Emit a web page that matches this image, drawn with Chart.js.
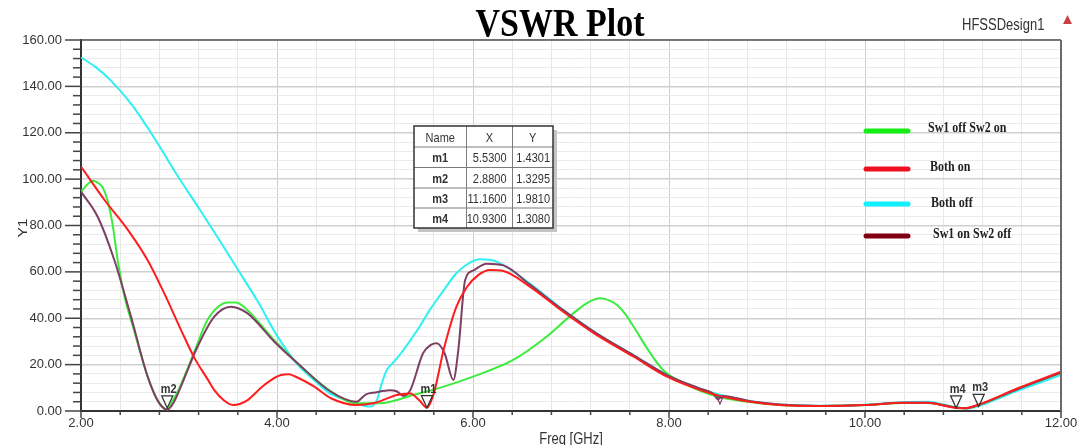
<!DOCTYPE html>
<html><head><meta charset="utf-8">
<script src="https://cdn.jsdelivr.net/npm/chart.js@4.4.1/dist/chart.umd.min.js"></script>
<style>html,body{margin:0;padding:0;background:#fff;}canvas{display:block}</style>
</head><body>
<canvas id="c" width="1078" height="445"></canvas>
<script>
// ---------- data ----------
const seriesNames = ['Sw1 off Sw2 on', 'Both on', 'Both off', 'Sw1 on Sw2 off'];

const greenFreq = [2.0,2.06,2.12,2.17,2.22,2.27,2.32,2.38,2.44,2.54,2.62,2.70,2.78,2.84,2.88,2.93,3.0,3.08,3.16,3.29,3.40,3.50,3.58,3.70,3.84,3.97,4.21,4.55,4.81,5.05,5.39,5.7,6.0,6.41,6.75,7.02,7.18,7.30,7.40,7.47,7.56,7.64,7.81,7.94,8.15,8.49,8.8,9.13,9.5,10.0,10.38,10.65,10.8,10.93,11.02,11.15,11.56,12.0];
const greenVswr = [94.6,97.5,99.3,98.5,96.5,91,81,63.5,50,35,23,12.5,4.5,1.5,0.6,4,9.5,17.5,26,39.2,45,46.8,46.8,43.5,37,30.6,20.6,8.5,3.3,3.3,6.9,10.5,14.8,22,32,42,47,48.6,47.5,45.7,41.5,36.3,24.9,17.7,12,6.2,4,2.6,2.2,2.6,3.4,3.5,2.5,1.5,1.15,2.4,9.6,16.5];

const redFreq = [2.0,2.24,2.48,2.68,2.85,3.02,3.16,3.28,3.36,3.46,3.55,3.62,3.70,3.87,4.04,4.12,4.18,4.38,4.55,4.81,4.98,5.10,5.22,5.36,5.45,5.53,5.60,5.70,5.83,5.94,6.05,6.17,6.31,6.58,6.92,7.26,7.64,7.98,8.32,8.52,8.83,9.13,9.54,10.0,10.38,10.65,10.8,10.93,11.02,11.15,11.56,12.0];
const redVswr = [105.4,91,78,65,50.7,35,22.7,14.5,9,4.5,2.6,3,4.7,11.2,15.5,15.8,15,10.5,5.5,2.6,3.3,5,6.9,7.6,4.7,1.43,7.6,26.3,44.9,53.6,58.5,60.8,60.4,53.6,42.8,32.8,23.4,14.8,9,6.5,4,2.6,2.2,2.6,3.6,3.6,2.4,1.31,1.2,2.6,9.8,17];

const cyanFreq = [2.0,2.15,2.3,2.52,2.69,2.81,3.0,3.21,3.4,3.6,3.8,4.0,4.2,4.4,4.54,4.7,4.81,4.95,5.02,5.07,5.12,5.2,5.29,5.45,5.56,5.7,5.83,5.95,6.07,6.24,6.58,6.92,7.26,7.64,7.98,8.32,8.52,8.83,9.13,9.54,10.0,10.38,10.65,10.8,10.95,11.05,11.15,11.56,12.0];
const cyanVswr = [152.5,148.3,142.7,132,121.5,113.5,100.5,87,74.5,61,47.5,32.5,20.5,12.5,7.6,4.8,3.3,1.9,4.8,12,17.7,21.5,26.3,36,43.6,52,59.4,63.5,65.4,64.4,55,43.6,33.5,24,15.5,9.5,7,4.2,2.8,2.3,2.7,3.8,4,2.8,1.4,1.1,2,8.8,15.5];

const purpleFreq = [2.0,2.17,2.34,2.51,2.68,2.80,2.88,2.95,3.02,3.19,3.36,3.53,3.70,3.97,4.21,4.55,4.81,4.91,5.0,5.15,5.22,5.29,5.36,5.49,5.57,5.63,5.71,5.80,5.85,5.92,6.0,6.14,6.31,6.58,6.92,7.26,7.64,7.98,8.32,8.45,8.5,8.55,8.83,9.13,9.54,10.0,10.38,10.65,10.8,10.93,11.02,11.15,11.56,12.0];
const purpleVswr = [94.6,83.8,65.1,40.7,14.8,3.3,0.6,4,10.6,27.8,40.7,45,42.1,30,20.6,8.3,4.0,7.2,8,9,8.5,6.5,9,24.9,28.5,29.2,24.9,13.4,26.3,56.5,60.5,63.5,62.8,54.5,43.5,33.5,24,15.5,9.6,7.5,5,6.5,4.2,2.8,2.2,2.6,3.6,3.6,2.5,1.5,1.15,2.5,9.5,16.5];

const markerNames = ['m1', 'm2', 'm3', 'm4'];
const markerX = [5.5300, 2.8800, 11.1600, 10.9300];
const markerY = [1.4301, 1.3295, 1.9810, 1.3080];
const extraMarkerX = [8.52];
const extraMarkerY = [3.0];

const xMajorTicks = [2, 4, 6, 8, 10, 12];
const yMajorTicks = [0, 20, 40, 60, 80, 100, 120, 140, 160];
const xMinorStep = 0.4, yMinorStep = 4;

// ---------- styles ----------
const curveColors = ['#3cec3c', '#ff1c1c', '#2cf0f4', '#7d3f62'];
const legendColors = ['#14ee14', '#ee1020', '#10f0ff', '#800012'];
const SANS = "'Liberation Sans', Arial, sans-serif";
const SERIF = "'Liberation Serif', 'Times New Roman', serif";
const STRETCH = 1.2;

const toPts = (fx, fy) => fx.map((x, i) => ({x, y: fy[i]}));
const isMajor = (v, list) => list.some(m => Math.abs(m - v) < 1e-6);

function sText(ctx, txt, x, y, font, color, align, sx = 1, sy = STRETCH) {
  ctx.save();
  ctx.font = font; ctx.fillStyle = color; ctx.textAlign = align; ctx.textBaseline = 'alphabetic';
  ctx.translate(x, y); ctx.scale(sx, sy); ctx.fillText(txt, 0, 0);
  ctx.restore();
}

const decor = {
  id: 'decor',
  afterDraw(chart) {
    const ctx = chart.ctx, a = chart.chartArea, xs = chart.scales.x, ys = chart.scales.y;
    ctx.save();
    // frame top / right
    ctx.strokeStyle = '#555'; ctx.lineWidth = 1.5;
    ctx.beginPath(); ctx.moveTo(a.left, a.top); ctx.lineTo(a.right, a.top); ctx.stroke();
    ctx.strokeStyle = '#6a6a6a'; ctx.lineWidth = 2;
    ctx.beginPath(); ctx.moveTo(a.right, a.top); ctx.lineTo(a.right, a.bottom + 1); ctx.stroke();
    // y tick marks
    ctx.strokeStyle = '#444'; ctx.lineWidth = 1.5;
    for (let i = 0; i <= 40; i++) {
      const v = i * yMinorStep, y = ys.getPixelForValue(v);
      const len = isMajor(v, yMajorTicks) ? 16 : 8;
      ctx.beginPath(); ctx.moveTo(a.left - len, y); ctx.lineTo(a.left, y); ctx.stroke();
    }
    // x tick marks
    for (let i = 0; i <= 25; i++) {
      const v = 2 + i * xMinorStep, x = xs.getPixelForValue(v);
      const len = isMajor(v, xMajorTicks) ? 7 : 4;
      ctx.beginPath(); ctx.moveTo(x, a.bottom); ctx.lineTo(x, a.bottom + len); ctx.stroke();
    }
    // title & header text
    sText(ctx, 'VSWR Plot', 560, 36, 'bold 34px ' + SERIF, '#000', 'center');
    sText(ctx, 'HFSSDesign1', 962, 30, '13px ' + SANS, '#333', 'left');
    ctx.fillStyle = '#c84040';
    ctx.beginPath(); ctx.moveTo(1067.5, 15); ctx.lineTo(1072, 24); ctx.lineTo(1063, 24); ctx.closePath(); ctx.fill();
    // axis titles
    ctx.save();
    ctx.translate(27, 228); ctx.rotate(-Math.PI / 2); ctx.scale(STRETCH, 1);
    ctx.font = '13px ' + SANS; ctx.fillStyle = '#333'; ctx.textAlign = 'center'; ctx.textBaseline = 'alphabetic';
    ctx.fillText('Y1', 0, 0);
    ctx.restore();
    sText(ctx, 'Freq [GHz]', (a.left + a.right) / 2, 444, '13px ' + SANS, '#333', 'center');
    // legend
    const lgLineY = [131, 169, 204, 236], lgTextY = [132, 171, 207, 238], lgTextX = [928, 930, 931, 933];
    seriesNames.forEach((n, i) => {
      ctx.strokeStyle = legendColors[i]; ctx.lineWidth = 5; ctx.lineCap = 'round';
      ctx.beginPath(); ctx.moveTo(866, lgLineY[i]); ctx.lineTo(908, lgLineY[i]); ctx.stroke();
      sText(ctx, n, lgTextX[i], lgTextY[i], 'bold 12px ' + SERIF, '#222', 'left');
    });
    ctx.lineCap = 'butt';
    // marker table
    const tx = [414, 466.5, 512.5, 553], ty = [126, 147, 167.5, 188, 208, 228];
    ctx.fillStyle = '#c4c4c4'; ctx.fillRect(tx[0] + 4, ty[0] + 4, tx[3] - tx[0], ty[5] - ty[0]);
    ctx.fillStyle = '#fff'; ctx.fillRect(tx[0], ty[0], tx[3] - tx[0], ty[5] - ty[0]);
    ctx.strokeStyle = '#7a7a7a'; ctx.lineWidth = 1;
    for (let i = 1; i < 3; i++) { ctx.beginPath(); ctx.moveTo(tx[i], ty[0]); ctx.lineTo(tx[i], ty[5]); ctx.stroke(); }
    for (let j = 1; j < 5; j++) { ctx.beginPath(); ctx.moveTo(tx[0], ty[j]); ctx.lineTo(tx[3], ty[j]); ctx.stroke(); }
    ctx.strokeStyle = '#333'; ctx.lineWidth = 1.5;
    ctx.strokeRect(tx[0], ty[0], tx[3] - tx[0], ty[5] - ty[0]);
    const hdr = ['Name', 'X', 'Y'];
    hdr.forEach((h, i) => sText(ctx, h, (tx[i] + tx[i + 1]) / 2, (ty[0] + ty[1]) / 2 + 5, '11px ' + SANS, '#333', 'center'));
    markerNames.forEach((n, j) => {
      const yb = (ty[j + 1] + ty[j + 2]) / 2 + 5;
      sText(ctx, n, (tx[0] + tx[1]) / 2, yb, 'bold 11px ' + SANS, '#333', 'center');
      sText(ctx, markerX[j].toFixed(4), tx[2] - 6, yb, '11px ' + SANS, '#333', 'right');
      sText(ctx, markerY[j].toFixed(4), tx[3] - 3, yb, '11px ' + SANS, '#333', 'right');
    });
    // markers on curves
    ctx.strokeStyle = '#333'; ctx.lineWidth = 1.3;
    markerNames.forEach((n, i) => {
      const px = xs.getPixelForValue(markerX[i]), py = ys.getPixelForValue(markerY[i]);
      ctx.beginPath(); ctx.moveTo(px, py); ctx.lineTo(px - 5.5, py - 12); ctx.lineTo(px + 5.5, py - 12); ctx.closePath(); ctx.stroke();
      sText(ctx, n, px + 1.5, py - 15, 'bold 11px ' + SANS, '#333', 'center');
    });
    ctx.strokeStyle = curveColors[3]; ctx.lineWidth = 1.2;
    extraMarkerX.forEach((mx, i) => {
      const px = xs.getPixelForValue(mx), py = ys.getPixelForValue(extraMarkerY[i]);
      ctx.beginPath(); ctx.moveTo(px, py); ctx.lineTo(px - 3, py - 7); ctx.lineTo(px + 3, py - 7); ctx.closePath(); ctx.stroke();
    });
    ctx.restore();
  }
};

const seriesData = [
  toPts(greenFreq, greenVswr),
  toPts(redFreq, redVswr),
  toPts(cyanFreq, cyanVswr),
  toPts(purpleFreq, purpleVswr)
];
const drawOrder = [2, 0, 3, 1]; // lower = on top

new Chart(document.getElementById('c'), {
  type: 'line',
  data: {
    datasets: seriesNames.map((n, i) => ({
      label: n,
      data: seriesData[i],
      borderColor: curveColors[i],
      backgroundColor: curveColors[i],
      borderWidth: 2,
      pointRadius: 0,
      fill: false,
      cubicInterpolationMode: 'monotone',
      order: drawOrder[i]
    }))
  },
  options: {
    responsive: false,
    devicePixelRatio: 1,
    animation: false,
    layout: { padding: { top: 40, right: 17, left: 0, bottom: 0 } },
    plugins: { legend: { display: false }, tooltip: { enabled: false }, title: { display: false } },
    scales: {
      x: {
        type: 'linear', min: 2, max: 12,
        afterFit(s) { s.height = 34; s.paddingLeft = 0; s.paddingRight = 0; },
        border: { color: '#333', width: 2 },
        grid: {
          drawTicks: false,
          color: c => (c.tick && isMajor(c.tick.value, xMajorTicks)) ? '#cdcdcd' : '#e8e8e8',
          lineWidth: 1
        },
        ticks: {
          stepSize: xMinorStep, autoSkip: false, maxRotation: 0, minRotation: 0, padding: 5,
          color: '#333', font: { family: SANS, size: 13 },
          callback: v => isMajor(v, xMajorTicks) ? Number(v).toFixed(2) : ''
        }
      },
      y: {
        type: 'linear', min: 0, max: 160,
        afterFit(s) { s.width = 81; s.paddingTop = 0; s.paddingBottom = 0; },
        border: { color: '#333', width: 2 },
        grid: {
          drawTicks: false,
          color: c => (c.tick && isMajor(c.tick.value, yMajorTicks)) ? '#d0d0d0' : '#ebebeb',
          lineWidth: c => (c.tick && isMajor(c.tick.value, yMajorTicks)) ? 1.5 : 1
        },
        ticks: {
          stepSize: yMinorStep, autoSkip: false, padding: 19,
          color: '#333', font: { family: SANS, size: 13 },
          callback: v => isMajor(v, yMajorTicks) ? Number(v).toFixed(2) : ''
        }
      }
    }
  },
  plugins: [decor]
});
</script>
</body></html>
